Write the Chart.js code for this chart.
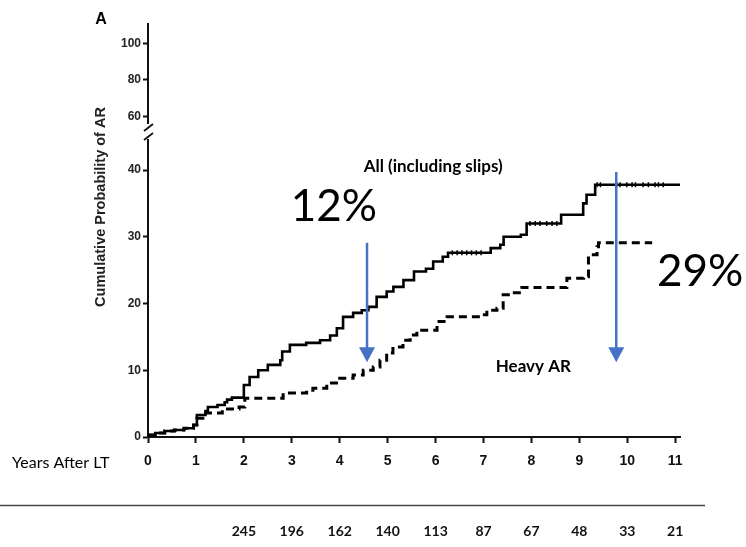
<!DOCTYPE html>
<html>
<head>
<meta charset="utf-8">
<script src="https://cdn.jsdelivr.net/npm/chart.js@4.4.1/dist/chart.umd.min.js"></script>
<style>
  body { margin: 0; background: #fff; }
  canvas { display: block; }
</style>
</head>
<body>
<canvas id="kmChart" width="746" height="547"></canvas>
<script>
// years after LT, cumulative probability (%)
const allYears = [0, 0.15, 0.35, 0.55, 0.75, 0.95, 1.02, 1.2, 1.25, 1.45, 1.6, 1.65, 1.75, 2.0, 2.12, 2.3, 2.5, 2.76, 2.8, 2.96, 3.3, 3.59, 3.8, 3.94, 4.07, 4.28, 4.46, 4.6, 4.77, 4.98, 5.12, 5.33, 5.55, 5.8, 5.95, 6.15, 6.26, 7.15, 7.35, 7.42, 7.78, 7.9, 8.62, 9.08, 9.15, 9.33, 11.1];
const allProb = [0.3, 0.6, 0.9, 1.05, 1.3, 1.8, 3.3, 3.9, 4.5, 4.8, 5.2, 5.6, 5.9, 7.8, 9.0, 10.0, 10.8, 11.5, 12.8, 13.8, 14.1, 14.5, 15.2, 16.3, 18.0, 18.6, 19.0, 19.5, 21.0, 21.8, 22.5, 23.5, 24.8, 25.2, 26.3, 27.0, 27.6, 28.3, 28.8, 30.0, 30.3, 32.0, 33.3, 35.0, 36.3, 37.8, 37.8];

const heavyYears = [0, 0.15, 0.35, 0.55, 0.75, 0.95, 1.02, 1.2, 1.55, 1.9, 2.02, 2.82, 3.31, 3.44, 3.73, 4.0, 4.28, 4.49, 4.7, 4.84, 4.98, 5.11, 5.32, 5.47, 5.61, 6.03, 6.24, 6.93, 7.07, 7.28, 7.41, 7.6, 7.8, 8.74, 9.09, 9.19, 9.37, 9.4, 10.52];
const heavyProb = [0.3, 0.6, 0.9, 1.05, 1.3, 1.8, 2.8, 3.6, 4.2, 4.5, 5.8, 6.6, 7.0, 7.3, 8.1, 8.8, 9.3, 10.0, 10.5, 11.5, 12.6, 13.5, 14.5, 15.3, 16.0, 17.3, 18.0, 18.3, 19.0, 19.3, 21.3, 21.6, 22.4, 23.8, 24.0, 27.3, 28.5, 29.1, 29.1];

// censored observations on the "All" curve
const censorYears = [6.35, 6.45, 6.55, 6.65, 6.75, 6.85, 6.95, 7.97, 8.08, 8.18, 8.32, 8.43, 8.53, 9.37, 9.44, 9.78, 9.85, 9.99, 10.1, 10.17, 10.33, 10.44, 10.58, 10.65, 10.75];
const censorProb = [27.6, 27.6, 27.6, 27.6, 27.6, 27.6, 27.6, 32.0, 32.0, 32.0, 32.0, 32.0, 32.0, 37.8, 37.8, 37.8, 37.8, 37.8, 37.8, 37.8, 37.8, 37.8, 37.8, 37.8, 37.8];

const xTicks = [0, 1, 2, 3, 4, 5, 6, 7, 8, 9, 10, 11];
const yTicksLow = [0, 10, 20, 30, 40];
const yTicksHigh = [60, 80, 100];

// number at risk
const riskYears = [2, 3, 4, 5, 6, 7, 8, 9, 10, 11];
const atRisk = [245, 196, 162, 140, 113, 87, 67, 48, 33, 21];

const toPoints = (xs, ys) => xs.map((v, i) => ({ x: v, y: ys[i] }));

const tickFont = { family: 'Arial, "Liberation Sans"', weight: 'bold', size: 12 };

const extras = {
    id: 'extras',
    afterDatasetsDraw(chart) {
        const ctx = chart.ctx;
        const x = chart.scales.x;
        const y = chart.scales.y;
        const left = chart.chartArea.left;
        const b = y.top;

        ctx.save();

        // axis break
        ctx.fillStyle = '#fff';
        ctx.fillRect(left - 3, b - 6, 6, 15);
        ctx.strokeStyle = '#111';
        ctx.lineWidth = 1.8;
        ctx.beginPath();
        ctx.moveTo(left - 4, b + 1); ctx.lineTo(left + 5, b - 6);
        ctx.moveTo(left - 4, b + 10); ctx.lineTo(left + 5, b + 3);
        ctx.stroke();

        // arrows
        function arrow(t, from, to) {
            const px = x.getPixelForValue(t);
            const y0 = y.getPixelForValue(from);
            const y1 = y.getPixelForValue(to);
            ctx.strokeStyle = '#4472C4';
            ctx.fillStyle = '#4472C4';
            ctx.lineWidth = 2.5;
            ctx.beginPath();
            ctx.moveTo(px, y0);
            ctx.lineTo(px, y1 - 14);
            ctx.stroke();
            ctx.beginPath();
            ctx.moveTo(px - 8, y1 - 15);
            ctx.lineTo(px + 8, y1 - 15);
            ctx.lineTo(px, y1);
            ctx.closePath();
            ctx.fill();
        }
        arrow(4.57, 29.1, 11.2);
        arrow(9.77, 39.7, 11.2);

        // labels inside the plot
        ctx.fillStyle = '#000';
        ctx.textAlign = 'center';
        ctx.textBaseline = 'middle';
        ctx.font = 'bold 17px Lato';
        ctx.fillText('All (including slips)', x.getPixelForValue(5.95), y.getPixelForValue(40.5));
        ctx.fillText('Heavy AR', x.getPixelForValue(8.04), y.getPixelForValue(10.6));
        ctx.font = '44px Lato';
        ctx.fillText('12%', x.getPixelForValue(3.88), y.getPixelForValue(34.5));
        ctx.fillText('29%', x.getPixelForValue(11.52), y.getPixelForValue(24.7));

        // panel letter and axis titles
        ctx.font = 'bold 16px Arial, "Liberation Sans"';
        ctx.fillText('A', 101, 20);
        ctx.font = '16px Lato';
        ctx.textAlign = 'left';
        ctx.fillText('Years After LT', 12, 463);
        ctx.save();
        ctx.translate(101, 207);
        ctx.rotate(-Math.PI / 2);
        ctx.textAlign = 'center';
        ctx.font = 'bold 14.5px Arial, "Liberation Sans"';
        ctx.fillStyle = '#222';
        ctx.fillText('Cumulative Probability of AR', 0, 0);
        ctx.restore();

        // number-at-risk table
        ctx.strokeStyle = '#444';
        ctx.lineWidth = 1.5;
        ctx.beginPath();
        ctx.moveTo(0, 505.5);
        ctx.lineTo(705, 505.5);
        ctx.stroke();
        ctx.fillStyle = '#111';
        ctx.textAlign = 'center';
        ctx.font = 'bold 14px Lato';
        riskYears.forEach((t, i) => {
            ctx.fillText(String(atRisk[i]), x.getPixelForValue(t), 531);
        });

        ctx.restore();
    }
};

new Chart(document.getElementById('kmChart'), {
    type: 'line',
    data: {
        datasets: [
            {
                label: 'All (including slips)',
                data: toPoints(allYears, allProb),
                borderColor: '#000',
                borderWidth: 2.6,
                stepped: true,
                pointRadius: 0,
                yAxisID: 'y'
            },
            {
                label: 'Heavy AR',
                data: toPoints(heavyYears, heavyProb),
                borderColor: '#000',
                borderWidth: 3,
                borderDash: [8, 5],
                stepped: true,
                pointRadius: 0,
                yAxisID: 'y'
            },
            {
                label: 'censored',
                data: toPoints(censorYears, censorProb),
                showLine: false,
                pointStyle: 'line',
                rotation: 90,
                pointRadius: 2.5,
                pointBorderWidth: 1.5,
                pointBorderColor: '#000',
                borderColor: '#000',
                yAxisID: 'y'
            }
        ]
    },
    options: {
        responsive: false,
        animation: false,
        devicePixelRatio: 1,
        layout: { padding: { left: 108, right: 66, top: 24, bottom: 70 } },
        plugins: {
            legend: { display: false },
            tooltip: { enabled: false }
        },
        scales: {
            y: {
                type: 'linear',
                position: 'left',
                stack: 'prob',
                stackWeight: 307,
                min: 0,
                max: 46,
                afterBuildTicks: s => { s.ticks = yTicksLow.map(v => ({ value: v })); },
                afterFit: s => { s.width = 40; },
                grid: { drawOnChartArea: false, tickLength: 5, tickWidth: 2, tickColor: '#111' },
                border: { color: '#111', width: 2 },
                ticks: { color: '#222', font: tickFont, padding: 2 }
            },
            yTop: {
                type: 'linear',
                position: 'left',
                stack: 'prob',
                stackWeight: 106,
                min: 52.7,
                max: 110.5,
                afterBuildTicks: s => { s.ticks = yTicksHigh.map(v => ({ value: v })); },
                afterFit: s => { s.width = 40; },
                grid: { drawOnChartArea: false, tickLength: 5, tickWidth: 2, tickColor: '#111' },
                border: { color: '#111', width: 2 },
                ticks: { color: '#222', font: tickFont, padding: 2 }
            },
            x: {
                type: 'linear',
                min: 0,
                max: 11.1,
                afterBuildTicks: s => { s.ticks = xTicks.map(v => ({ value: v })); },
                afterFit: s => { s.height = 40; },
                grid: { drawOnChartArea: false, tickLength: 6, tickWidth: 2, tickColor: '#111' },
                border: { color: '#111', width: 2 },
                ticks: { color: '#111', font: { family: 'Arial, "Liberation Sans"', weight: 'bold', size: 14 }, padding: 10, maxRotation: 0 }
            }
        }
    },
    plugins: [extras]
});
</script>
</body>
</html>
